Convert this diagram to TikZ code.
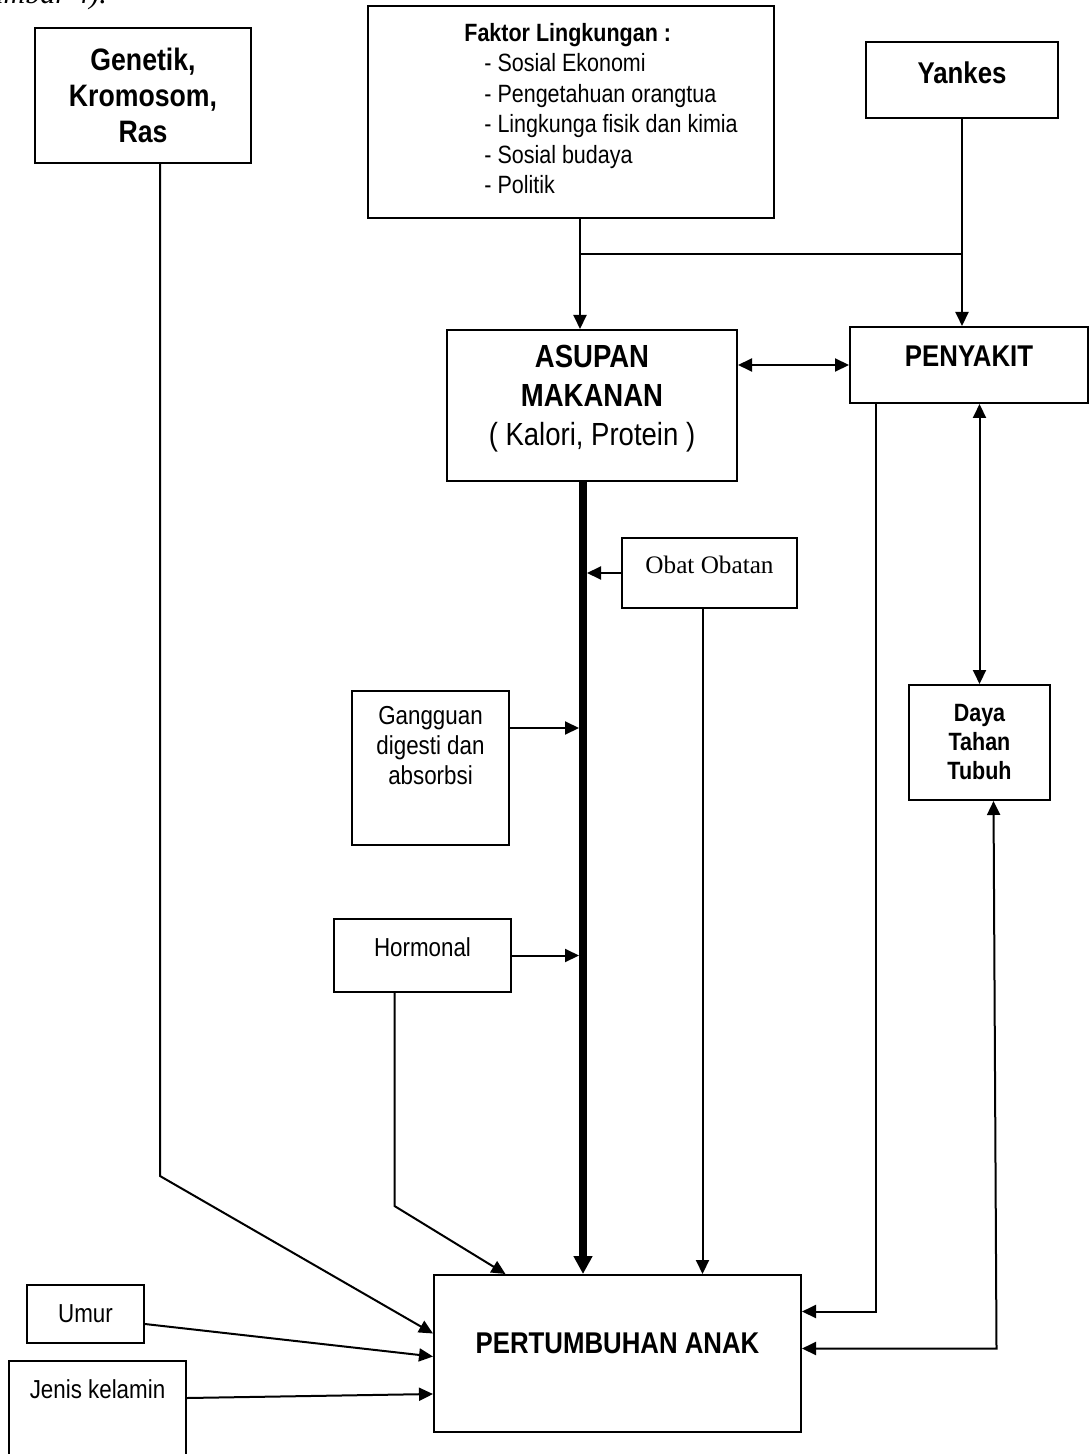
\documentclass[tikz,border=0pt]{standalone}
\usepackage{fontspec}
\newfontfamily\arialn{Liberation Sans}[FakeStretch=0.86]
\newfontfamily\timesf{Liberation Serif}
\usetikzlibrary{arrows.meta,calc}
\newcommand{\fsz}[2]{\fontsize{#1}{#2}\selectfont}

\begin{document}
\begin{tikzpicture}[x=0.5pt,y=-0.5pt,
    box/.style={draw,line width=1pt,inner sep=0pt,align=center,font=\arialn},
    ln/.style={line width=1pt},
    arr/.style={line width=1pt,-{Triangle[length=7pt,width=6.5pt]}},
    darr/.style={line width=1pt,{Triangle[length=7pt,width=6.5pt]}-{Triangle[length=7pt,width=6.5pt]}},
    mainline/.style={line width=4pt,-{Triangle[length=9pt,width=9pt]}}]
    \useasboundingbox (0,0) rectangle (1090,1454);
    \node[anchor=base east,font=\timesf\itshape\fsz{15}{17}] (cap) at (114,4) {(Gambar 4).};
% boxes
    \node[box,minimum width=108pt,minimum height=67.5pt,font=\arialn\fsz{15.5}{18}\bfseries] (gen) at (143,95.5) {Genetik,\\Kromosom,\\Ras};
    \node[box,minimum width=203pt,minimum height=106pt,
      label={[anchor=north west,align=left,inner sep=0pt,font=\arialn\fsz{12.5}{15.2},xshift=48.5pt,yshift=-9pt]north west:{\textbf{Faktor Lingkungan :}\\\hspace*{10pt}- Sosial Ekonomi\\\hspace*{10pt}- Pengetahuan orangtua\\\hspace*{10pt}- Lingkunga fisik dan kimia\\\hspace*{10pt}- Sosial budaya\\\hspace*{10pt}- Politik}}] (faktor) at (571,112) {};
    \node[box,minimum width=96pt,minimum height=38pt,text depth=7pt,font=\arialn\fsz{15}{18}\bfseries] (yankes) at (962,80) {Yankes};
    \node[box,minimum width=145pt,minimum height=75.5pt,text depth=10pt,font=\arialn\fsz{16}{19.5}] (asupan) at (592,405.5) {\textbf{ASUPAN}\\\textbf{MAKANAN}\\( Kalori, Protein )};
    \node[box,minimum width=119pt,minimum height=38pt,text depth=9pt,font=\arialn\fsz{15}{18}\bfseries] (penyakit) at (969,365) {PENYAKIT};
    \node[box,minimum width=87.5pt,minimum height=35pt,text depth=8pt,font=\timesf\fsz{12.6}{14}] (obat) at (709.5,573) {Obat Obatan};
    \node[box,minimum width=78.5pt,minimum height=77pt,
      label={[anchor=north,align=center,inner sep=0pt,font=\arialn\fsz{13}{15},yshift=-8pt]north:{Gangguan\\digesti dan\\absorbsi}}] (gangguan) at (430.5,768) {};
    \node[box,minimum width=88.5pt,minimum height=36.5pt,text depth=8pt,font=\arialn\fsz{13}{15}] (hormonal) at (422.5,955.5) {Hormonal};
    \node[box,minimum width=70.5pt,minimum height=57.5pt,font=\arialn\fsz{12.5}{14.5}\bfseries] (daya) at (979.5,742.5) {Daya\\Tahan\\Tubuh};
    \node[box,minimum width=183.5pt,minimum height=78.5pt,text depth=10pt,font=\arialn\fsz{15}{18}\bfseries] (tumbuh) at (617.5,1353.5) {PERTUMBUHAN ANAK};
    \node[box,minimum width=58.5pt,minimum height=29pt,font=\arialn\fsz{13}{15}] (umur) at (85.5,1314) {Umur};
    \node[box,minimum width=88.5pt,minimum height=50pt,
      label={[anchor=north,inner sep=0pt,font=\arialn\fsz{13}{15},yshift=-9.5pt]north:{Jenis kelamin}}] (jenis) at (97.5,1411) {};
% top part
    \coordinate (f1) at ($(faktor.south)+(9,0)$);
    \draw[arr] (f1) -- (f1 |- asupan.north);
    \draw[ln] ($(f1)+(0,35)$) -- ($(yankes.south |- f1)+(0,35)$);
    \draw[arr] (yankes.south) -- (yankes.south |- penyakit.north);
    \draw[darr] (penyakit.west -| asupan.east) -- (penyakit.west);
% main line
    \coordinate (a1) at ($(asupan.south)+(-9,0)$);
    \draw[mainline] (a1) -- (a1 |- tumbuh.north);
    \draw[arr,shorten >=2pt] (obat.west) -- (obat.west -| a1);
    \coordinate (g1) at ($(gangguan.east)+(0,-40)$);
    \draw[arr,shorten >=2pt] (g1) -- (g1 -| a1);
    \draw[arr,shorten >=2pt] (hormonal.east) -- (hormonal.east -| a1);
% into growth
    \coordinate (o1) at ($(obat.south)+(-7,0)$);
    \draw[arr] (o1) -- (o1 |- tumbuh.north);
    \coordinate (h1) at ($(hormonal.south)+(-28,0)$);
    \draw[arr] (h1) -- ($(h1)+(0,213)$) -- ($(tumbuh.north)+(-112,0)$);
    \coordinate (g2) at ($(gen.south)+(17,0)$);
    \draw[arr] (g2) -- ($(g2)+(0,1012)$) -- ($(tumbuh.west)+(0,-20)$);
    \draw[arr] ($(umur.east)+(0,10)$) -- ($(tumbuh.west)+(0,3)$);
    \draw[arr] ($(jenis.east)+(0,-13)$) -- ($(tumbuh.west)+(0,40.5)$);
    \coordinate (p1) at ($(penyakit.south)+(-93,0)$);
    \draw[arr] (p1) -- ($(p1 |- tumbuh.east)+(0,-42)$) -- ($(tumbuh.east)+(0,-42)$);
    \draw[darr] (penyakit.south -| daya.north) -- (daya.north);
    \coordinate (d1) at ($(daya.south)+(14,0)$);
    \draw[darr] (d1) -- ($(d1 |- tumbuh.east)+(3,-5)$) -- ($(tumbuh.east)+(0,-5)$);
\end{tikzpicture}
\end{document}
